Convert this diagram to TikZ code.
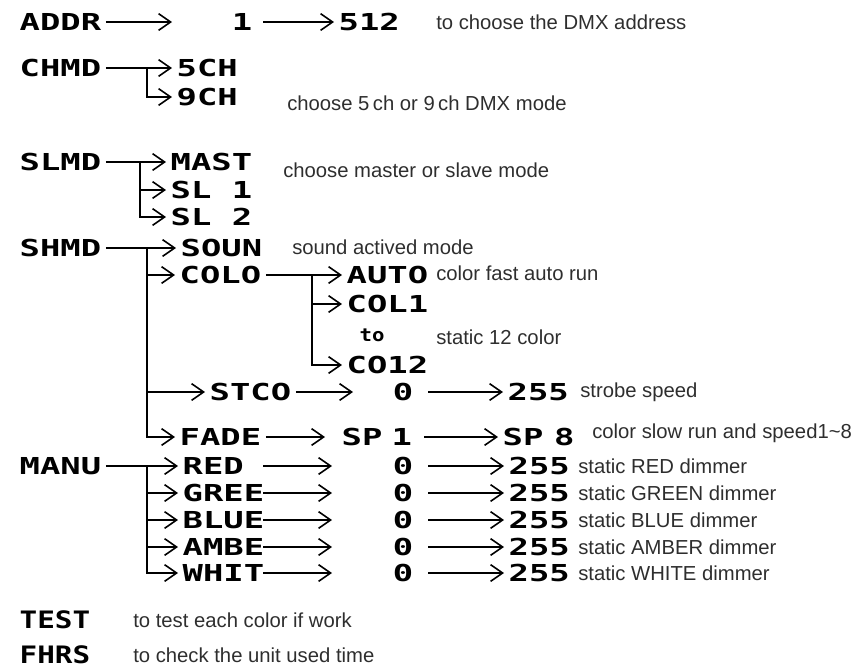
\documentclass[tikz,border=0pt]{standalone}
\usepackage{fontspec}
\setmainfont{Liberation Sans}
\newfontfamily\lcdfont[FakeStretch=1.45]{DejaVu Sans Mono}
\newfontfamily\lcdfontn[FakeStretch=1.22]{DejaVu Sans Mono}
\newfontfamily\lcdfonts[FakeStretch=1.15]{DejaVu Sans Mono}
\usetikzlibrary{arrows.meta}
\tikzset{
  lcd/.style={font=\lcdfont\bfseries\fontsize{17.5}{20}\selectfont, inner sep=0pt, outer sep=3.5pt, anchor=west, text height=12.8pt, text depth=0pt},
  lcdn/.style={lcd, font=\lcdfontn\bfseries\fontsize{18}{20}\selectfont, text height=13.1pt},
  lcdsmall/.style={font=\lcdfonts\bfseries\fontsize{13.5}{15}\selectfont, inner sep=0pt, anchor=center},
  desc/.style={font=\fontsize{15.2}{18}\selectfont, text=black!82, inner sep=0pt, anchor=west, text height=10.9pt, text depth=0pt},
  wire/.style={line width=1.2pt, black},
  arr/.style={wire, -{Straight Barb[length=9pt, width=12.5pt, line width=1.2pt]}}
}
\begin{document}
\begin{tikzpicture}[x=0.75pt, y=-0.75pt]
\useasboundingbox (0,0) rectangle (857,668);
% ---------- ADDR ----------
\node[lcd] (addr) at (15,22) {ADDR};
\node[lcd, anchor=center] (a1) at (242,22) {1};
\node[lcd] (a512) at (334,22) {512};
\node[desc] (d1) at (436,22) {to choose the DMX address};
\coordinate (addrT) at (172,22);
\coordinate (a1A) at (263,22);
\draw[arr] (addr.east) -- (addrT);
\draw[arr] (a1A) -- (a512.west);
% ---------- CHMD ----------
\node[lcd] (chmd) at (15,68) {CHMD};
\node[lcd] (ch5) at (172,68) {5CH};
\node[lcd] (ch9) at (172,97) {9CH};
\node[desc] (d2) at (287,103) {choose 5\,ch or 9\,ch DMX mode};
\coordinate (chJ) at (147,68);
\draw[arr] (chmd.east) -- (ch5.west);
\draw[arr] (chJ) |- (ch9.west);
% ---------- SLMD ----------
\node[lcd] (slmd) at (15,162) {SLMD};
\node[lcd] (mast) at (166,162) {MAST};
\node[lcd] (sl1) at (166,190) {SL 1};
\node[lcd] (sl2) at (166,217) {SL 2};
\node[desc] (d3) at (283,170) {choose master or slave mode};
\coordinate (slJ) at (140,162);
\draw[arr] (slmd.east) -- (mast.west);
\draw[arr] (slJ) |- (sl1.west);
\draw[arr] (slJ) |- (sl2.west);
% ---------- SHMD ----------
\node[lcd] (shmd) at (15,248) {SHMD};
\node[lcd] (soun) at (176,248) {SOUN};
\node[desc] (d4) at (292,247) {sound actived mode};
\node[lcd] (colo) at (175,275) {COLO};
\node[lcd] (auto) at (342,275) {AUTO};
\node[desc] (d5) at (436,273) {color fast auto run};
\node[lcd] (col1) at (342,304) {COL1};
\node[lcdsmall] (to) at (372,335) {to};
\node[desc] (d6) at (436,337) {static 12 color};
\node[lcd] (co12) at (342,365) {CO12};
\node[lcd] (stco) at (205,392) {STCO};
\node[lcd, anchor=center] (s0) at (403,392) {0};
\node[lcd] (s255) at (503,392) {255};
\node[desc] (d7) at (580,390) {strobe speed};
\node[lcd] (fade) at (175,437) {FADE};
\node[lcd] (sp1) at (337,437) {SP\kern7pt 1};
\node[lcd] (sp8) at (498,437) {SP\kern8pt 8};
\node[desc] (d8) at (592,431) {color slow run and speed1\textasciitilde 8};
\coordinate (shJ) at (147,248);
\coordinate (coJ) at (312,275);
\coordinate (stT) at (353,392);
\coordinate (s0A) at (428,392);
\coordinate (fdT) at (325,437);
\coordinate (sp1A) at (424,437);
\draw[arr] (shmd.east) -- (soun.west);
\draw[arr] (shJ) |- (colo.west);
\draw[arr] (shJ) |- (stco.west);
\draw[arr] (shJ) |- (fade.west);
\draw[arr] (colo.east) -- (auto.west);
\draw[arr] (coJ) |- (col1.west);
\draw[arr] (coJ) |- (co12.west);
\draw[arr] (stco.east) -- (stT);
\draw[arr] (s0A) -- (s255.west);
\draw[arr] (fade.east) -- (fdT);
\draw[arr] (sp1A) -- (sp8.west);
% ---------- MANU ----------
\node[lcd] (manu) at (15,466) {MANU};
\coordinate (maJ) at (147,466);
\draw[wire] (manu.east) -- (maJ);
\foreach \nm/\lbl/\yy/\dtxt in {red/RED/466/static RED dimmer, gree/GREE/493/static GREEN dimmer, blue/BLUE/520/static BLUE dimmer, ambe/AMBE/547/static AMBER dimmer, whit/WHIT/573/static WHITE dimmer}{
  \node[lcd] (\nm) at (178,\yy) {\lbl};
  \node[lcd, anchor=center] (\nm0) at (403,\yy) {0};
  \node[lcd] (\nm255) at (504,\yy) {255};
  \node[desc] (\nm d) at (578,\yy) {\dtxt};
  \coordinate (\nm A) at (263,\yy);
  \coordinate (\nm T) at (332,\yy);
  \coordinate (\nm B) at (428,\yy);
  \draw[arr] (maJ) |- (\nm.west);
  \draw[arr] (\nm A) -- (\nm T);
  \draw[arr] (\nm B) -- (\nm255.west);
}
% ---------- TEST / FHRS ----------
\node[lcdn] (test) at (15,620) {TEST};
\node[desc] (d10) at (133,620) {to test each color if work};
\node[lcdn] (fhrs) at (15,655) {FHRS};
\node[desc] (d11) at (133,655) {to check the unit used time};
\end{tikzpicture}
\end{document}
